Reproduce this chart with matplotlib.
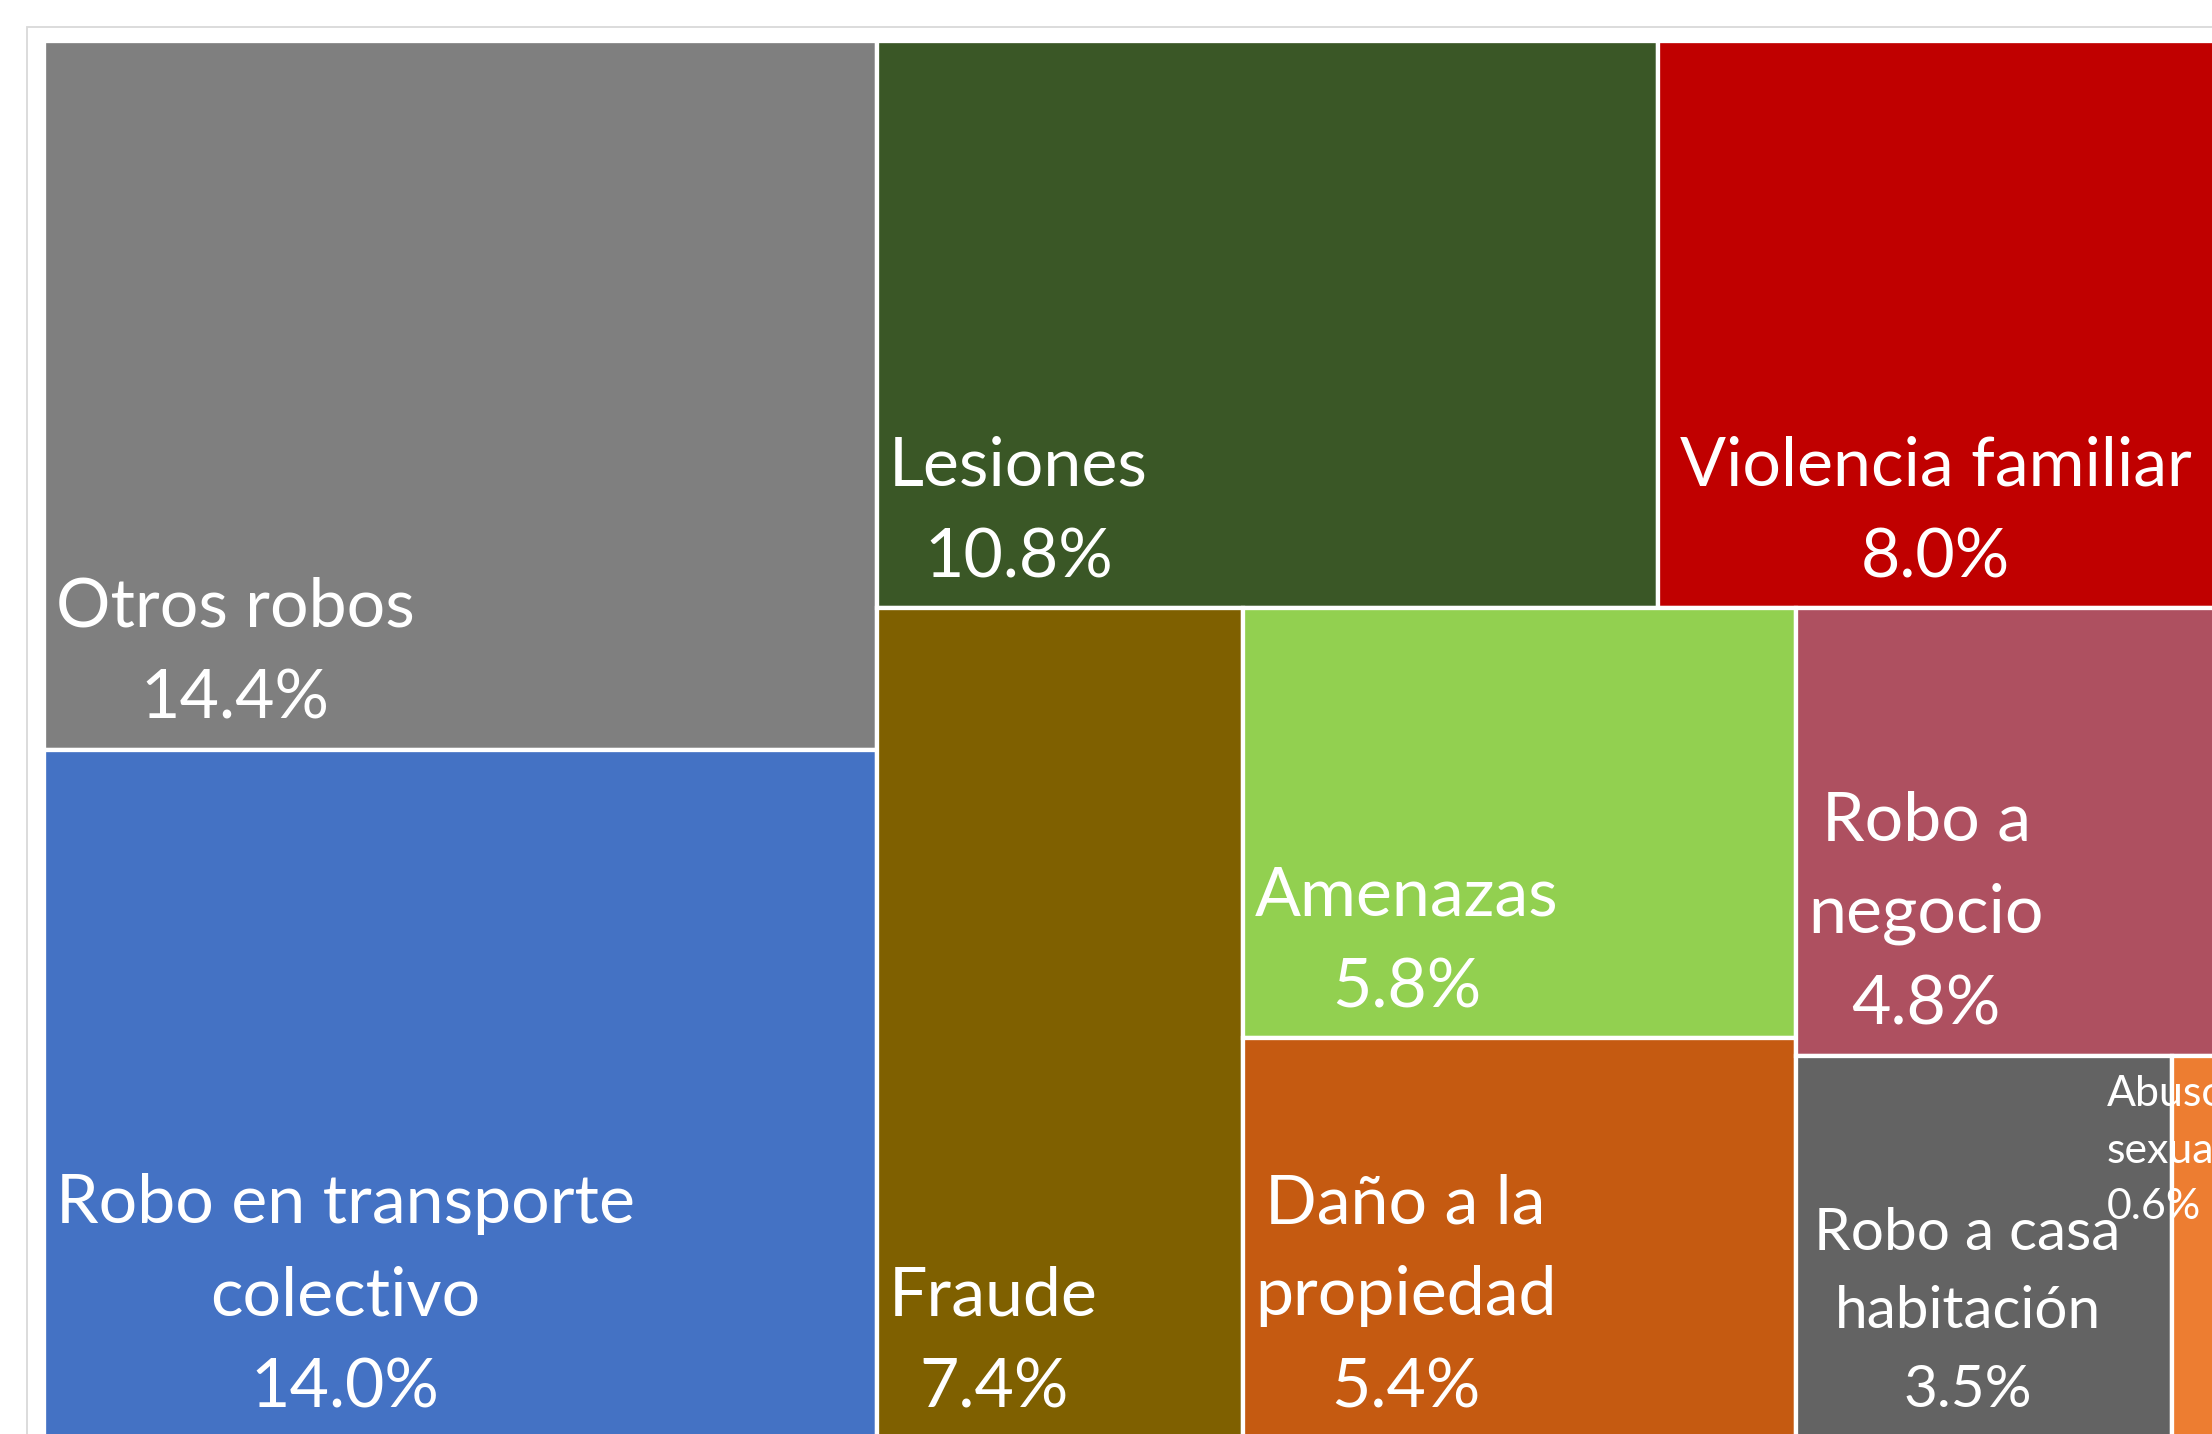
import matplotlib
matplotlib.use("Agg")
import matplotlib.pyplot as plt
from matplotlib.patches import Rectangle

# ---- data ----
categories = ["Otros robos", "Robo en transporte colectivo", "Lesiones",
              "Violencia familiar", "Fraude", "Amenazas", "Daño a la propiedad",
              "Robo a negocio", "Robo a casa habitación", "Abuso sexual"]
label_text = ["Otros robos", "Robo en transporte\ncolectivo", "Lesiones",
              "Violencia familiar", "Fraude", "Amenazas", "Daño a la\npropiedad",
              "Robo a\nnegocio", "Robo a casa\nhabitación", "Abuso\nsexual"]
shares = [14.4, 14.0, 10.8, 8.0, 7.4, 5.8, 5.4, 4.8, 3.5, 0.6]

# ---- styles / layout ----
colors = ["#7F7F7F", "#4472C4", "#3A5726", "#C00000", "#7F6000",
          "#92D050", "#C55A11", "#AE5060", "#636363", "#ED7D31"]
strip_sizes = [2, 2, 1, 2, 1, 1, 1]   # items per strip (Excel layout)

FIG_W, FIG_H = 2212, 1434
AX_X0, AX_TOP, AX_W, AX_H = 43.6, 41.2, 2192.6, 1397.0
FS = 49
FONT = ["Lato", "DejaVu Sans"]
LS = 1.6


def strip_layout(values, x, y, w, h, strips):
    rects = []
    scale = w * h / sum(values)
    i = 0
    for n in strips:
        group = values[i:i + n]
        area = sum(group) * scale
        if w >= h:      # column along the shorter (vertical) side
            cw = area / h
            yy = y
            for v in group:
                rh = v * scale / cw
                rects.append((x, yy, cw, rh))
                yy += rh
            x += cw
            w -= cw
        else:           # row along the shorter (horizontal) side
            rh = area / w
            xx = x
            for v in group:
                rw = v * scale / rh
                rects.append((xx, y, rw, rh))
                xx += rw
            y += rh
            h -= rh
        i += n
    return rects


fig = plt.figure(figsize=(FIG_W / 100, FIG_H / 100), dpi=100)
fig.patch.set_facecolor("white")

# chart-area frame (extends past the cropped edges)
fig.patches.append(Rectangle((27 / FIG_W, -0.2), 1.5, (FIG_H - 26.5) / FIG_H + 0.2,
                             transform=fig.transFigure, fill=False,
                             edgecolor="#D9D9D9", linewidth=1.3))

ax = fig.add_axes([AX_X0 / FIG_W, (FIG_H - AX_TOP - AX_H) / FIG_H,
                   AX_W / FIG_W, AX_H / FIG_H])
ax.set_xlim(0, AX_W)
ax.set_ylim(AX_H, 0)
ax.axis("off")

rects = strip_layout(shares, 0, 0, AX_W, AX_H, strip_sizes)

pad_override = {"Violencia familiar": 22, "Robo a casa habitación": 18}
size_factor = {"Robo a casa habitación": 0.86, "Abuso sexual": 0.63}

for cat, lab, val, col, (x, y, w, h) in zip(categories, label_text, shares, colors, rects):
    ax.add_patch(Rectangle((x, y), w, h, facecolor=col, edgecolor="white",
                           linewidth=3.1))

for cat, lab, val, col, (x, y, w, h) in zip(categories, label_text, shares, colors, rects):
    txt = f"{lab}\n{val:.1f}%"
    fs = FS * size_factor.get(cat, 1.0)
    if cat == "Abuso sexual":
        ax.text(x - 65, y + 19, txt, ha="left", va="top", multialignment="left",
                fontsize=fs, color="white", family=FONT, linespacing=LS,
                clip_on=False)
    else:
        pad = pad_override.get(cat, 12)
        ax.text(x + pad, y + h - 31, txt, ha="left", va="baseline",
                multialignment="center", fontsize=fs, color="white",
                family=FONT, linespacing=LS, clip_on=False)

fig.savefig("out.png", dpi=100, facecolor="white")
